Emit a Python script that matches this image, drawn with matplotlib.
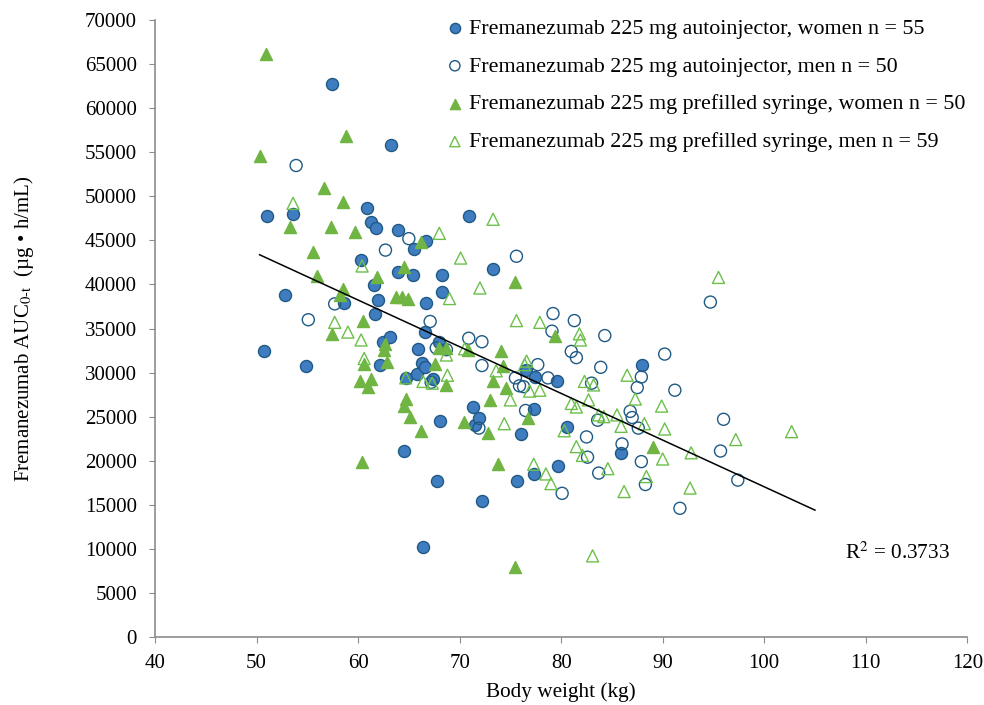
import numpy as np
import matplotlib
matplotlib.use("Agg")
import matplotlib.pyplot as plt

plt.rcParams['font.family'] = ['Liberation Serif', 'DejaVu Serif']
plt.rcParams['mathtext.fontset'] = 'stix'

# women, autoinjector (filled circles)
ai_w_x = [50.7, 51.0, 52.8, 53.6, 54.9, 57.4, 58.6, 60.3, 60.9, 61.3, 61.6, 61.7, 61.8, 62.0,
          62.2, 62.5, 63.1, 63.2, 63.9, 63.9, 64.5, 64.7, 65.4, 65.5, 65.8, 65.9, 66.3, 66.4,
          66.6, 66.6, 66.7, 66.7, 67.4, 67.8, 68.0, 68.1, 68.3, 68.3, 70.9, 71.3, 71.5, 71.9,
          72.2, 73.3, 75.7, 76.0, 76.5, 77.3, 77.3, 77.4, 79.6, 79.7, 80.6, 85.9, 88.0]
ai_w_y = [32400, 47800, 38800, 48000, 30800, 62800, 37900, 42800, 48700, 47100, 39900, 36700,
          46400, 38200, 30900, 33500, 34000, 55800, 41400, 46200, 21100, 29400, 41100, 44000,
          29800, 32700, 31100, 10200, 30600, 34600, 37900, 44900, 29300, 17700, 33500, 24500,
          39100, 41100, 47800, 26100, 24100, 24900, 15400, 41700, 17700, 23000, 30300, 25900,
          18500, 29500, 29100, 19400, 23800, 20900, 30900]

# men, autoinjector (open circles)
ai_m_x = [53.9, 55.1, 57.7, 62.7, 65.0, 67.1, 67.2, 67.7, 68.7, 70.9, 71.9, 72.2, 72.2, 75.5,
          75.6, 75.9, 76.3, 76.5, 77.7, 78.7, 79.1, 79.2, 80.1, 81.0, 81.3, 81.5, 82.5, 82.6,
          83.0, 83.6, 83.7, 83.9, 84.3, 86.0, 86.8, 87.0, 87.5, 87.6, 87.9, 87.9, 88.3, 90.2,
          91.2, 91.7, 94.7, 95.7, 96.0, 97.4]
ai_m_y = [53500, 36000, 37800, 43900, 45200, 35800, 28900, 32800, 32600, 33900, 23700, 33500,
          30800, 29400, 43200, 28500, 28400, 25700, 30900, 29400, 34700, 36700, 16300, 32400,
          35900, 31700, 22700, 20400, 28800, 24600, 18600, 30600, 34200, 21900, 25600, 24900,
          28300, 23700, 29500, 19900, 17300, 32100, 28000, 14600, 38000, 21100, 24700, 17800]

# women, prefilled syringe (filled triangles)
ps_w_x = [50.3, 50.9, 53.3, 55.6, 56.0, 56.6, 57.3, 57.4, 58.2, 58.5, 58.5, 58.8, 59.7, 60.2,
          60.4, 60.5, 60.6, 61.0, 61.3, 61.9, 62.6, 62.7, 62.9, 63.7, 64.3, 64.5, 64.5, 64.7,
          64.9, 65.1, 66.2, 66.2, 67.6, 68.0, 68.7, 68.7, 70.4, 70.8, 72.8, 73.0, 73.3, 73.8,
          74.1, 74.3, 74.6, 75.5, 75.5, 76.7, 79.4, 89.0]
ps_w_y = [54600, 66200, 46500, 43700, 41000, 51000, 46500, 34400, 38800, 39500, 49400, 56900,
          45900, 29100, 19900, 35900, 31000, 28400, 29300, 40900, 32600, 33200, 31200, 38600,
          38600, 42000, 26200, 27000, 38400, 25000, 23400, 44800, 31000, 32800, 32800, 28600,
          24400, 32600, 23200, 26900, 29100, 19600, 32500, 30700, 28300, 40300, 7900, 24800,
          34100, 21500]

# men, prefilled syringe (open triangles)
ps_m_x = [53.6, 57.7, 59.0, 60.3, 60.4, 60.6, 64.7, 66.4, 67.3, 68.0, 68.7, 68.8, 69.0, 70.1,
          70.5, 72.0, 73.3, 73.6, 74.4, 75.0, 75.6, 76.4, 76.6, 76.9, 77.3, 77.9, 77.9, 78.5,
          79.0, 80.3, 81.0, 81.5, 81.5, 81.8, 81.9, 82.1, 82.3, 82.7, 83.1, 83.2, 83.7, 84.2,
          84.6, 85.5, 85.9, 86.2, 86.5, 87.3, 88.2, 88.4, 89.9, 90.0, 90.2, 92.7, 92.8, 95.5,
          97.2, 102.7]
ps_m_y = [49200, 35700, 34600, 33700, 42100, 31600, 29400, 29000, 28800, 45800, 32000, 29700,
          38400, 43000, 32700, 39600, 47400, 30200, 24200, 26900, 35900, 30900, 31300, 27900,
          19600, 35700, 28000, 18500, 17400, 23400, 26500, 26100, 21600, 34400, 33700, 20600,
          29000, 26900, 9200, 28600, 25200, 25000, 19100, 25200, 23900, 16500, 29700, 27000,
          24200, 18200, 26200, 20200, 23600, 16900, 20900, 40800, 22400, 23300]

labels = ["Fremanezumab 225 mg autoinjector, women n = 55",
          "Fremanezumab 225 mg autoinjector, men n = 50",
          "Fremanezumab 225 mg prefilled syringe, women n = 50",
          "Fremanezumab 225 mg prefilled syringe, men n = 59"]
r2_text = "R$^2$ = 0.3733"
trend_end = 105

blue = "#3f7dc0"
dark_blue = "#1f5a85"
green = "#70b544"
light_green = "#6cc04a"
axis_grey = "#8c8c8c"

fig = plt.figure(figsize=(9.84, 7.05), dpi=100)
ax = fig.add_axes([0.1575, 0.0965, 0.8255, 0.875])

ms = 75
ax.scatter(ai_w_x, ai_w_y, s=ms, marker='o', facecolor=blue, edgecolor=dark_blue, linewidth=1.0,
           label=labels[0], zorder=3)
ax.scatter(ai_m_x, ai_m_y, s=ms, marker='o', facecolor='none', edgecolor=dark_blue, linewidth=1.0,
           label=labels[1], zorder=3)
ax.scatter(ps_w_x, ps_w_y, s=ms, marker='^', facecolor=green, edgecolor=green, linewidth=1.0,
           label=labels[2], zorder=3)
ax.scatter(ps_m_x, ps_m_y, s=ms, marker='^', facecolor='none', edgecolor=light_green, linewidth=1.0,
           label=labels[3], zorder=3)

# linear trend over all points
all_x = np.array(ai_w_x + ai_m_x + ps_w_x + ps_m_x)
all_y = np.array(ai_w_y + ai_m_y + ps_w_y + ps_m_y)
slope, icept = np.polyfit(all_x, all_y, 1)
tx = np.array([all_x.min(), trend_end])
ax.plot(tx, slope * tx + icept, color='black', linewidth=1.1, zorder=4)

ax.text(108, 9500, r2_text, fontsize=15.3, va='center', ha='left')

ax.set_xlim(40, 120)
ax.set_ylim(0, 70000)
ax.set_xticks(np.arange(40, 121, 10))
ax.set_yticks(np.arange(0, 70001, 5000))
ax.tick_params(labelsize=15, direction='out', length=4, color=axis_grey)
ax.tick_params(axis='y', pad=9)
ax.tick_params(axis='x', pad=8)
for s in ['top', 'right']:
    ax.spines[s].set_visible(False)
for s in ['left', 'bottom']:
    ax.spines[s].set_color(axis_grey)
    ax.spines[s].set_linewidth(1.2)

ax.set_xlabel("Body weight (kg)", fontsize=15.3, labelpad=7)
ax.set_ylabel(r"Fremanezumab AUC$_{\mathrm{0\text{-}t}}$  (µg • h/mL)", fontsize=15)
ax.yaxis.set_label_coords(-0.147, 0.5)

ax.legend(loc='upper left', bbox_to_anchor=(0.33, 1.035), frameon=False, fontsize=15.8,
          handletextpad=0.1, handlelength=1.1, labelspacing=0.8, markerscale=0.85)

fig.savefig("out.png", dpi=100)
